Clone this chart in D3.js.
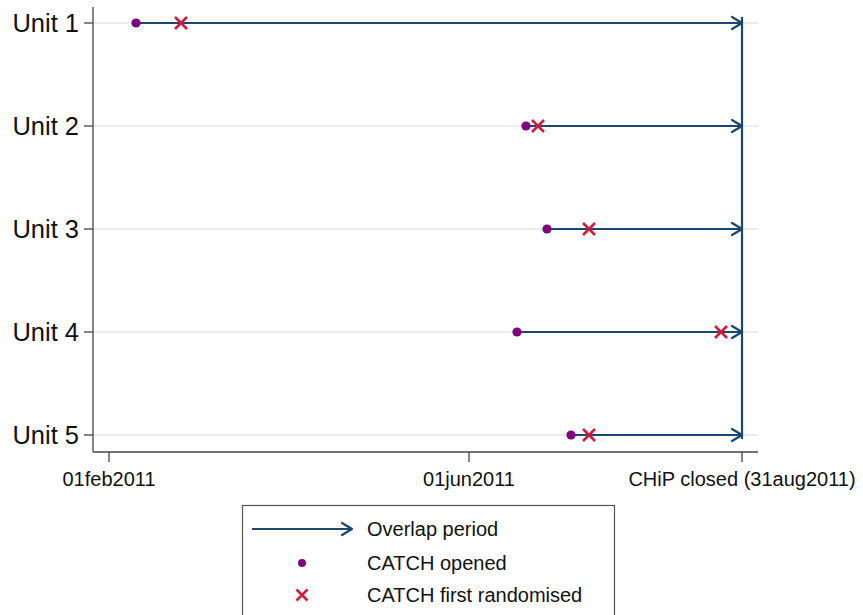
<!DOCTYPE html>
<html>
<head>
<meta charset="utf-8">
<script src="https://cdn.jsdelivr.net/npm/d3@7"></script>
<style>
  body { margin: 0; background: #fff; }
  text { font-family: "Liberation Sans", Arial, sans-serif; }
</style>
</head>
<body>
<svg id="chart" width="863" height="615"></svg>
<script>
const units = ["Unit 1", "Unit 2", "Unit 3", "Unit 4", "Unit 5"];
const openedDates = ["2011-02-10", "2011-06-20", "2011-06-27", "2011-06-17", "2011-07-05"];
const randomisedDates = ["2011-02-25", "2011-06-24", "2011-07-11", "2011-08-24", "2011-07-11"];
const tickDates = ["2011-02-01", "2011-06-01", "2011-08-31"];
const tickLabels = ["01feb2011", "01jun2011", "CHiP closed (31aug2011)"];
const chipClosed = "2011-08-31";
const legendLabels = ["Overlap period", "CATCH opened", "CATCH first randomised"];

const navy = "#1a476f";
const purple = "#800080";
const red = "#d01c3a";
const axisColor = "#444";

const svg = d3.select("#chart");
const parse = d3.utcParse("%Y-%m-%d");
const day = 864e5;
const padDays = 5.33; // stata leaves a bit of room either side of the range

const first = parse(tickDates[0]);
const last = parse(tickDates[tickDates.length - 1]);
const x = d3.scaleUtc()
  .domain([new Date(+first - padDays * day), new Date(+last + padDays * day)])
  .range([93, 758]);
const y = d3.scalePoint().domain(units).range([23, 435]);
const plotTop = 7, plotBottom = 452;

const rows = units.map((u, i) => ({
  unit: u,
  opened: parse(openedDates[i]),
  randomised: parse(randomisedDates[i]),
}));
const closed = parse(chipClosed);

// light gridlines behind everything
svg.append("g")
  .selectAll("line")
  .data(units)
  .join("line")
  .attr("x1", x.range()[0]).attr("x2", x.range()[1])
  .attr("y1", (d) => y(d)).attr("y2", (d) => y(d))
  .attr("stroke", "#ececec")
  .attr("stroke-width", 2);

// axes drawn by hand to match the stata look
const xAxis = svg.append("g").attr("transform", `translate(0,${plotBottom})`);
xAxis.append("line")
  .attr("x1", x.range()[0]).attr("x2", x.range()[1])
  .attr("stroke", axisColor).attr("stroke-width", 1.3);
xAxis.selectAll("line.tick")
  .data(tickDates)
  .join("line")
  .attr("class", "tick")
  .attr("x1", (d) => x(parse(d))).attr("x2", (d) => x(parse(d)))
  .attr("y1", 0).attr("y2", 10)
  .attr("stroke", axisColor).attr("stroke-width", 1.3);
xAxis.selectAll("text")
  .data(tickDates)
  .join("text")
  .attr("x", (d) => x(parse(d)))
  .attr("y", 34)
  .attr("text-anchor", "middle")
  .attr("font-size", 20)
  .attr("fill", "#111")
  .text((d, i) => tickLabels[i]);

const yAxis = svg.append("g").attr("transform", `translate(${x.range()[0]},0)`);
yAxis.append("line")
  .attr("y1", plotTop).attr("y2", plotBottom)
  .attr("stroke", axisColor).attr("stroke-width", 1.3);
yAxis.selectAll("line.tick")
  .data(units)
  .join("line")
  .attr("class", "tick")
  .attr("x1", -9).attr("x2", 0)
  .attr("y1", (d) => y(d)).attr("y2", (d) => y(d))
  .attr("stroke", axisColor).attr("stroke-width", 1.3);
yAxis.selectAll("text")
  .data(units)
  .join("text")
  .attr("x", -14)
  .attr("y", (d) => y(d))
  .attr("dy", "0.36em")
  .attr("text-anchor", "end")
  .attr("font-size", 25.5)
  .attr("fill", "#111")
  .text((d) => d);

// open chevron arrowhead
function arrowHead(g, px, py) {
  g.append("path")
    .attr("d", `M${px - 10},${py - 6} L${px},${py} L${px - 10},${py + 6}`)
    .attr("fill", "none")
    .attr("stroke", navy)
    .attr("stroke-width", 2.2)
    .attr("stroke-linecap", "round")
    .attr("stroke-linejoin", "round");
}

const overlap = svg.append("g");
// vertical line where CHiP closed
overlap.append("line")
  .attr("x1", x(closed)).attr("x2", x(closed))
  .attr("y1", y(units[0]) - 6).attr("y2", y(units[units.length - 1]) + 4)
  .attr("stroke", navy).attr("stroke-width", 2.2);

rows.forEach((d) => {
  overlap.append("line")
    .attr("x1", x(d.opened)).attr("x2", x(closed))
    .attr("y1", y(d.unit)).attr("y2", y(d.unit))
    .attr("stroke", navy).attr("stroke-width", 2.2);
  arrowHead(overlap, x(closed), y(d.unit));
});

function cross(g, cx, cy, s) {
  g.append("path")
    .attr("d", `M${cx - s},${cy - s} L${cx + s},${cy + s} M${cx - s},${cy + s} L${cx + s},${cy - s}`)
    .attr("stroke", red)
    .attr("stroke-width", 2.6)
    .attr("fill", "none");
}

const marks = svg.append("g");
marks.selectAll("circle")
  .data(rows)
  .join("circle")
  .attr("cx", (d) => x(d.opened))
  .attr("cy", (d) => y(d.unit))
  .attr("r", 4.6)
  .attr("fill", purple);
rows.forEach((d) => cross(marks, x(d.randomised), y(d.unit), 6));

// legend
const legend = svg.append("g");
legend.append("rect")
  .attr("x", 242.5).attr("y", 505.5)
  .attr("width", 372).attr("height", 120)
  .attr("fill", "#fff")
  .attr("stroke", "#555")
  .attr("stroke-width", 1.2);
const legendY = [529, 563, 595];
legend.append("line")
  .attr("x1", 252).attr("x2", 352)
  .attr("y1", legendY[0]).attr("y2", legendY[0])
  .attr("stroke", navy).attr("stroke-width", 2.2);
arrowHead(legend, 352, legendY[0]);
legend.append("circle")
  .attr("cx", 302).attr("cy", legendY[1])
  .attr("r", 4)
  .attr("fill", purple);
cross(legend, 302, legendY[2], 5.5);
legend.selectAll("text")
  .data(legendLabels)
  .join("text")
  .attr("x", 367)
  .attr("y", (d, i) => legendY[i])
  .attr("dy", "0.36em")
  .attr("font-size", 20)
  .attr("fill", "#111")
  .text((d) => d);
</script>
</body>
</html>
